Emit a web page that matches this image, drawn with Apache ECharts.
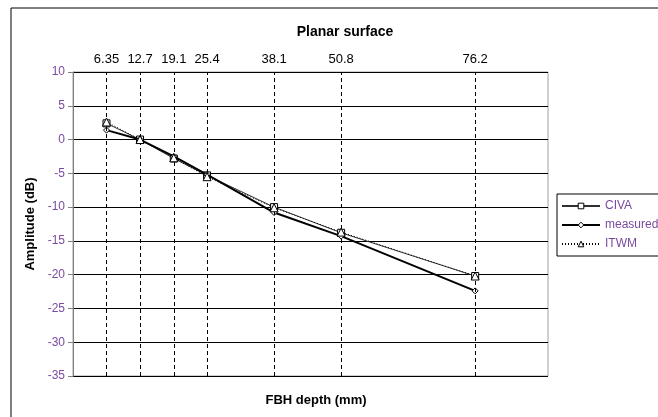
<!DOCTYPE html>
<html>
<head>
<meta charset="utf-8">
<title>Planar surface</title>
<script src="https://cdn.jsdelivr.net/npm/echarts@6/dist/echarts.min.js"></script>
</head>
<body style="margin:0">
<div id="main" style="width:658px;height:417px;"></div>
<script type="text/javascript">
// FBH depths (mm) - also the top axis labels
var depths = [6.35, 12.7, 19.1, 25.4, 38.1, 50.8, 76.2];
var civa = [2.4, 0, -2.8, -5.3, -10.0, -13.8, -20.2];
var measured = [1.4, 0, -2.5, -5.2, -10.8, -14.3, -22.4];
var itwm = [2.6, 0, -2.7, -5.5, -10.1, -13.7, -20.2];

function pairs(vals) {
    return depths.map(function (d, i) { return [d, vals[i]]; });
}

var purple = '#7b4aa0';
var font = 'Liberation Sans, Arial, sans-serif';
var hollow = { color: '#fff', borderColor: '#000', borderWidth: 1 };

var myChart = echarts.init(document.getElementById('main'));

var option = {
    animation: false,
    textStyle: { fontFamily: font },
    title: [
        { text: 'Planar surface', left: 340, top: 20, textAlign: 'center',
          textStyle: { fontSize: 14, fontWeight: 'bold', color: '#000', fontFamily: font } },
        { text: 'FBH depth (mm)', left: 311, top: 389, textAlign: 'center',
          textStyle: { fontSize: 13, fontWeight: 'bold', color: '#000', fontFamily: font } }
    ],
    graphic: [
        { type: 'rect', shape: { x: 11, y: 8, width: 700, height: 500 },
          style: { fill: 'none', stroke: '#000', lineWidth: 1 }, silent: true }
    ],
    grid: { left: 73, right: 110, top: 72, bottom: 41, show: true,
            borderColor: '#a0a0a0', borderWidth: 1, backgroundColor: 'transparent' },
    legend: {
        orient: 'vertical', left: 557, top: 194,
        itemWidth: 38, itemHeight: 7, itemGap: 7,
        padding: [6, 8, 6, 4],
        borderColor: '#000', borderWidth: 1, backgroundColor: '#fff',
        textStyle: { color: purple, fontSize: 12, fontFamily: font },
        data: [
            { name: 'CIVA', itemStyle: hollow },
            { name: 'measured', itemStyle: hollow },
            { name: 'ITWM', itemStyle: hollow }
        ]
    },
    xAxis: {
        type: 'value', position: 'top', min: 0, max: 90,
        axisLine: { show: false },
        axisTick: { show: false },
        splitLine: { show: false },
        axisLabel: { customValues: depths, color: '#000', fontSize: 13, margin: 6,
                     formatter: function (v) { return String(v); } }
    },
    yAxis: {
        type: 'value', min: -35, max: 10, interval: 5,
        name: 'Amplitude (dB)', nameLocation: 'middle', nameGap: 34, nameRotate: 90,
        nameTextStyle: { fontSize: 13, fontWeight: 'bold', color: '#000' },
        axisLine: { show: true, lineStyle: { color: '#808080', width: 1 } },
        axisTick: { show: true, length: 5, lineStyle: { color: '#808080' } },
        axisLabel: { color: purple, fontSize: 12, margin: 8 },
        splitLine: { show: true, lineStyle: { color: '#000', width: 1 } }
    },
    series: [
        {
            name: 'CIVA', type: 'line', data: pairs(civa),
            symbol: 'rect', symbolSize: 7,
            itemStyle: hollow,
            lineStyle: { color: '#303030', width: 1 },
            markLine: {
                silent: true, symbol: 'none', label: { show: false },
                lineStyle: { color: '#000', type: [4, 3], width: 1 },
                data: depths.map(function (d) { return { xAxis: d }; })
            },
            z: 3
        },
        {
            name: 'measured', type: 'line', data: pairs(measured),
            symbol: 'diamond', symbolSize: 6,
            itemStyle: hollow,
            lineStyle: { color: '#000', width: 2 },
            z: 4
        },
        {
            name: 'ITWM', type: 'line', data: pairs(itwm),
            symbol: 'triangle', symbolSize: 8,
            itemStyle: hollow,
            lineStyle: { color: '#000', width: 1, type: [1, 2] },
            z: 5
        }
    ]
};

myChart.setOption(option);
</script>
</body>
</html>
